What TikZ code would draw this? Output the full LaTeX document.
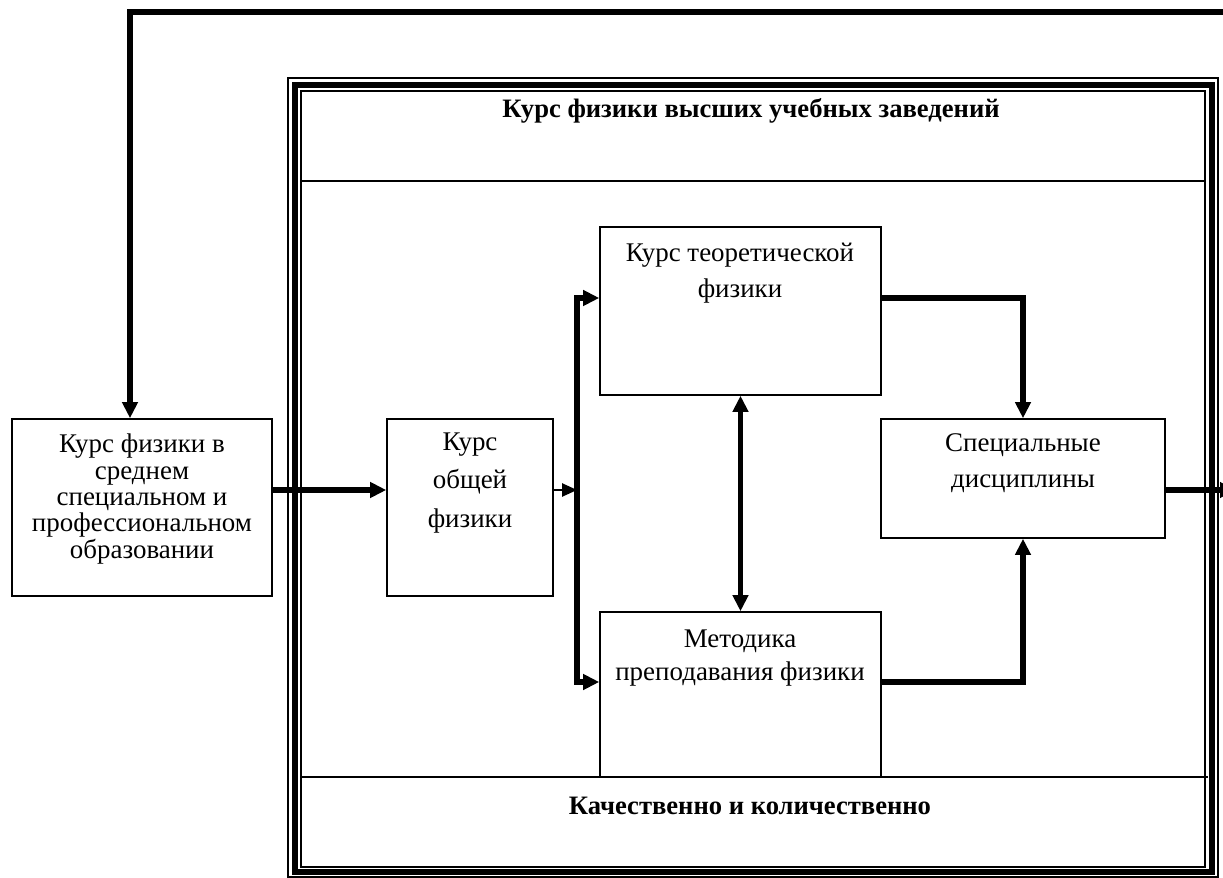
\documentclass[tikz,border=0pt]{standalone}
\usepackage{fontspec}
\setmainfont{Liberation Serif}
\usetikzlibrary{positioning,arrows.meta,calc,fit}

\tikzset{
  blk/.style={draw, line width=1.3pt, inner sep=0pt},
  txt/.style={align=center, inner sep=0pt, font=\fontsize{23}{#1}\selectfont},
  head/.style={inner sep=0pt, font=\fontsize{22.7}{26}\selectfont\bfseries},
  flow/.style={line width=4.3pt, -{Triangle[length=0.48cm,width=0.45cm]}},
  twoway/.style={line width=4.3pt, {Triangle[length=0.48cm,width=0.45cm]}-{Triangle[length=0.48cm,width=0.45cm]}},
  thinflow/.style={line width=1.3pt, -{Triangle[length=0.45cm,width=0.4cm]}},
  sep/.style={line width=1.3pt}
}

\begin{document}
\begin{tikzpicture}[x=0.03cm, y=-0.03cm]
  \useasboundingbox (0,0) rectangle (1223,878);
  \draw[line width=1.1pt] (288,78) rectangle (1218,877);
  \draw[line width=4.3pt] (295,85) rectangle (1212,872);
  \draw[line width=1.1pt] (301,91) rectangle (1205,867);
  \draw[sep] (301,181) -- (1205,181);
  \draw[sep] (301,777) -- (1208,777);
  \node[head] (top) at (751,111) {Курс физики высших учебных заведений};
  \node[head] (bottom) at (750,806) {Качественно и количественно};

  \node[blk, fit={(12,419) (272,596)}] (school) {};
  \node[blk, fit={(387,419) (553,596)}] (general) {};
  \node[blk, fit={(600,227) (881,395)}] (theory) {};
  \node[blk, fit={(600,612) (881,777)}] (method) {};
  \node[blk, fit={(881,419) (1165,538)}] (special) {};

  \node[txt=22.6pt] at (142,499) {Курс физики в\\среднем\\специальном и\\профессиональном\\образовании};
  \node[txt=32.8pt] at (470,483) {Курс\\общей\\физики};
  \node[txt=30.7pt] at (740,273) {Курс теоретической\\физики};
  \node[txt=28pt] at (740,658) {Методика\\преподавания физики};
  \node[txt=30.7pt] at (1023,463) {Специальные\\дисциплины};

  \coordinate (row) at (0,490);
  \coordinate (busT) at (577,298);
  \coordinate (busB) at (577,682);
  \coordinate (fbL) at (130,12);
  \coordinate (fbR) at (1240,12);
  \coordinate (outR) at (1236,490);

  \draw[flow] (fbR) -- (fbL) -- (fbL |- school.north);
  \draw[flow] (school.east |- row) -- (general.west |- row);
  \draw[thinflow] (general.east |- row) -- (busT |- row);
  \draw[flow] (busT |- row) |- (theory.west |- busT);
  \draw[flow] (busT |- row) |- (method.west |- busB);
  \draw[twoway] (theory.south) -- (method.north);
  \draw[flow] (theory.east |- busT) -| (special.north);
  \draw[flow] (method.east |- busB) -| (special.south);
  \draw[flow] (special.east |- row) -- (outR);
\end{tikzpicture}
\end{document}
